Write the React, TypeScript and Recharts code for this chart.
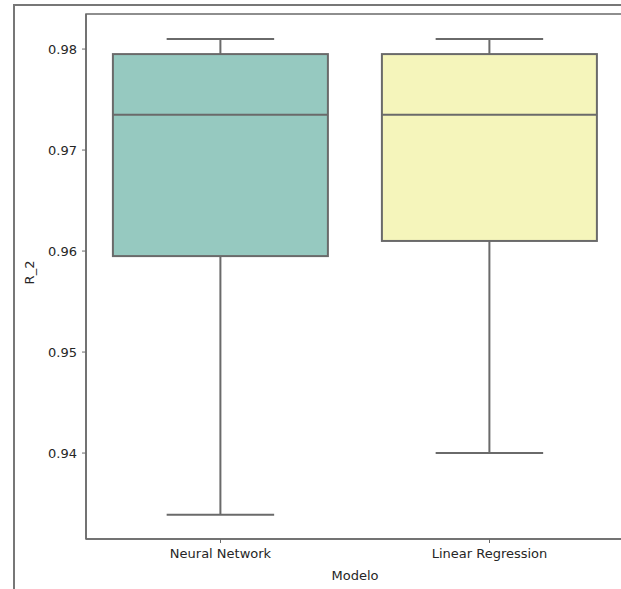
import { ComposedChart, Bar, XAxis, YAxis, ReferenceArea } from "recharts";

const modelos = ["Neural Network", "Linear Regression"];
const minimos = [0.9339, 0.9400];
const q1s = [0.9595, 0.9610];
const medianas = [0.9735, 0.9735];
const q3s = [0.9795, 0.9795];
const maximos = [0.9810, 0.9810];
const colores = ["#96c9c0", "#f5f5bb"];
const yTicks = [0.94, 0.95, 0.96, 0.97, 0.98];
const yDomain = [0.93149, 0.98347];

const LINE = "#6a6a6a";
const TEXT = "#262626";

const data = modelos.map((m, i) => ({
  modelo: m,
  rango: [minimos[i], maximos[i]],
  min: minimos[i],
  q1: q1s[i],
  mediana: medianas[i],
  q3: q3s[i],
  max: maximos[i],
  color: colores[i],
}));

function BoxShape(props: any) {
  const { x, y, width, height, payload } = props;
  const top = Math.min(y, y + height);
  const bot = Math.max(y, y + height);
  const pix = (v: number) =>
    top + ((payload.max - v) / (payload.max - payload.min)) * (bot - top);
  const cx = x + width / 2;
  const capHalf = width / 4;
  return (
    <g>
      <line x1={cx} x2={cx} y1={pix(payload.max)} y2={pix(payload.q3)} stroke={LINE} strokeWidth={2} />
      <line x1={cx} x2={cx} y1={pix(payload.q1)} y2={pix(payload.min)} stroke={LINE} strokeWidth={2} />
      <line x1={cx - capHalf} x2={cx + capHalf} y1={pix(payload.max)} y2={pix(payload.max)} stroke={LINE} strokeWidth={2} />
      <line x1={cx - capHalf} x2={cx + capHalf} y1={pix(payload.min)} y2={pix(payload.min)} stroke={LINE} strokeWidth={2} />
      <rect
        x={x}
        y={pix(payload.q3)}
        width={width}
        height={pix(payload.q1) - pix(payload.q3)}
        fill={payload.color}
        stroke={LINE}
        strokeWidth={2}
      />
      <line x1={x} x2={x + width} y1={pix(payload.mediana)} y2={pix(payload.mediana)} stroke={LINE} strokeWidth={2} />
    </g>
  );
}

export default function App() {
  return (
    <div style={{ position: "absolute", left: 0, top: 0, width: 621, height: 589, overflow: "hidden", background: "#fff", fontFamily: "DejaVu Sans" }}>
      <div
        style={{
          position: "absolute",
          left: 13,
          top: 4,
          width: 700,
          height: 700,
          borderLeft: "2px solid #777",
          borderTop: "2px solid #777",
        }}
      />
      <div style={{ position: "absolute", left: 0, top: 0 }}>
        <ComposedChart
          width={640}
          height={589}
          data={data}
          margin={{ top: 14, right: 16, bottom: 0, left: 0 }}
          barCategoryGap="10%"
        >
          <ReferenceArea y1={yDomain[1]} y2={yDomain[0]} fill="none" stroke={LINE} strokeWidth={1.5} ifOverflow="visible" />
          <XAxis
            dataKey="modelo"
            height={50}
            axisLine={{ stroke: LINE, strokeWidth: 1.5 }}
            tickLine={{ stroke: LINE }}
            tickSize={4}
            tick={{ fill: TEXT, fontSize: 13, fontFamily: "DejaVu Sans", dy: 4 }}
            label={{
              content: ({ viewBox }: any) => (
                <text
                  x={viewBox.x + viewBox.width / 2}
                  y={viewBox.y + 41}
                  textAnchor="middle"
                  fill={TEXT}
                  fontSize={13}
                  fontFamily="DejaVu Sans"
                >
                  Modelo
                </text>
              ),
            }}
          />
          <YAxis
            type="number"
            domain={yDomain}
            ticks={yTicks}
            allowDataOverflow
            width={86}
            axisLine={{ stroke: LINE, strokeWidth: 1.5 }}
            tickLine={{ stroke: LINE }}
            tickSize={4}
            tickFormatter={(v: number) => v.toFixed(2)}
            tick={{ fill: TEXT, fontSize: 13, fontFamily: "DejaVu Sans", dx: -3 }}
            label={{
              content: ({ viewBox }: any) => {
                const lx = 34;
                const ly = viewBox.y + viewBox.height / 2 - 4;
                return (
                  <text
                    x={lx}
                    y={ly}
                    textAnchor="middle"
                    transform={`rotate(-90 ${lx} ${ly})`}
                    fill={TEXT}
                    fontSize={13}
                    fontFamily="DejaVu Sans"
                  >
                    R_2
                  </text>
                );
              },
            }}
          />
          <Bar dataKey="rango" shape={<BoxShape />} isAnimationActive={false} />
        </ComposedChart>
      </div>
    </div>
  );
}
